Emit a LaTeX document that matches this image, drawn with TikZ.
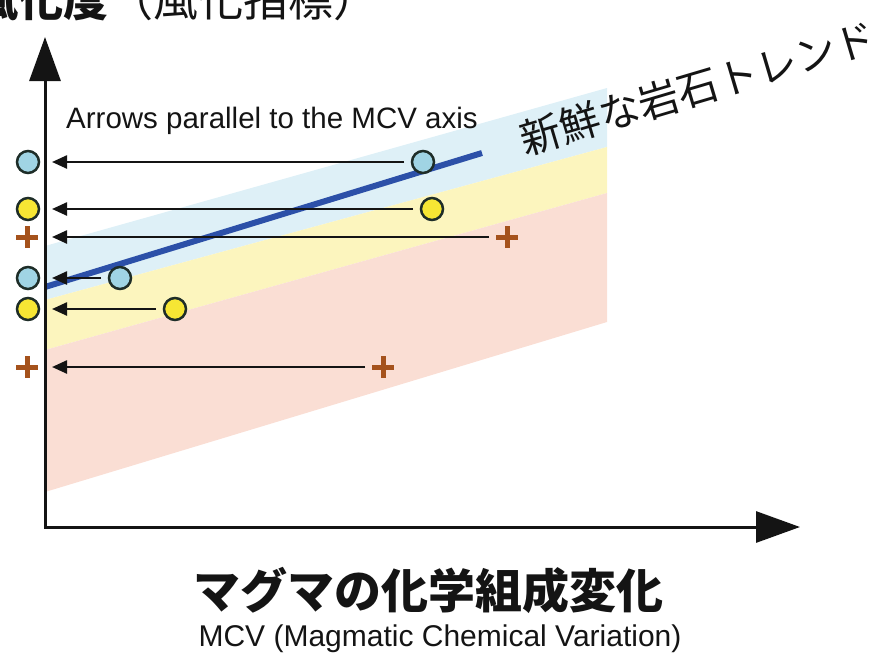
\documentclass[tikz,border=0pt]{standalone}
\usepackage{fontspec}
\setmainfont{Liberation Sans}
\newfontfamily\jp{Noto Sans CJK JP}
\usetikzlibrary{arrows.meta}
\definecolor{bandblue}{RGB}{222,240,247}
\definecolor{bandyellow}{RGB}{252,245,190}
\definecolor{bandpink}{RGB}{250,222,212}
\definecolor{trendblue}{RGB}{44,80,168}
\definecolor{dotblue}{RGB}{160,212,228}
\definecolor{dotyellow}{RGB}{246,230,52}
\definecolor{dotedge}{RGB}{30,45,40}
\definecolor{plusbrown}{RGB}{165,82,28}
\definecolor{ink}{RGB}{20,20,20}
\begin{document}
\begin{tikzpicture}[x=1pt,y=-1pt,
  axisline/.style={draw=ink, line width=3pt, -{Triangle[length=44pt,width=31pt]}},
  arr/.style={draw=ink, line width=2.4pt, -{Triangle[length=15pt,width=13pt]}},
  bdot/.style={circle, draw=dotedge, fill=dotblue, line width=2.5pt, minimum size=22pt, inner sep=0pt},
  ydot/.style={circle, draw=dotedge, fill=dotyellow, line width=2.5pt, minimum size=22pt, inner sep=0pt},
  plusmark/.style={rectangle, minimum size=22pt, inner sep=0pt,
    path picture={\draw[plusbrown, line width=5pt]
      (path picture bounding box.north) -- (path picture bounding box.south)
      (path picture bounding box.west) -- (path picture bounding box.east);}},
  gap/.style={outer sep=8pt},
  txt/.style={text=ink, inner sep=0pt}
]
\useasboundingbox (0,0) rectangle (883,656);
\clip (0,0) rectangle (883,656);

% bands
\fill[bandblue] (45,246) -- (607,88) -- (607,147) -- (45,300) -- cycle;
\fill[bandyellow] (45,300) -- (607,147) -- (607,193) -- (45,350) -- cycle;
\fill[bandpink] (45,350) -- (607,193) -- (607,322) -- (45,492) -- cycle;

% trend line
\coordinate (ts) at (45,287);
\coordinate (te) at (482,153);
\draw[trendblue, line width=6pt] (ts) -- (te);

% axes
\coordinate (O) at (45,527);
\coordinate (ytip) at (45,37);
\coordinate (xtip) at (800,527);
\draw[axisline, line cap=rect] (O) -- (ytip);
\draw[axisline, line cap=rect] (O) -- (xtip);

% left markers
\node[bdot] (l1) at (28,162) {};
\node[ydot] (l2) at (28,209) {};
\node[plusmark] (l3) at (27,237) {};
\node[bdot] (l4) at (28,278) {};
\node[ydot] (l5) at (28,309) {};
\node[plusmark] (l6) at (27,367) {};

% arrow tips on axis
\coordinate (t1) at (52,162);
\coordinate (t2) at (52,209);
\coordinate (t3) at (52,237);
\coordinate (t4) at (52,278);
\coordinate (t5) at (52,309);
\coordinate (t6) at (52,367);

% right markers
\node[bdot, gap] (r1) at (423,162) {};
\node[ydot, gap] (r2) at (432,209) {};
\node[plusmark, outer sep=7pt] (r3) at (507,237) {};
\node[bdot, gap] (r4) at (120,278) {};
\node[ydot, gap] (r5) at (175,309) {};
\node[plusmark, outer sep=7pt] (r6) at (383,367) {};

\draw[arr] (r1) -- (t1);
\draw[arr] (r2) -- (t2);
\draw[arr] (r3) -- (t3);
\draw[arr] (r4) -- (t4);
\draw[arr] (r5) -- (t5);
\draw[arr] (r6) -- (t6);

% texts
\node[txt, font=\jp\bfseries\fontsize{45}{50}\selectfont, anchor=base west] (ytitle) at (-27,16) {風化度\mdseries（風化指標）};
\node[txt, font=\fontsize{29.5}{32}\selectfont, anchor=base west] (note) at (66,128) {Arrows parallel to the MCV axis};
\node[txt, font=\jp\fontsize{41}{44}\selectfont, rotate=16.5] (trend) at (698,88) {新鮮な岩石トレンド};
\node[txt, font=\jp\bfseries\fontsize{47}{50}\selectfont, anchor=base] (xtitle) at (428,608) {マグマの化学組成変化};
\node[txt, font=\fontsize{30}{32}\selectfont, anchor=base] (xsub) at (440,646) {MCV (Magmatic Chemical Variation)};
\end{tikzpicture}
\end{document}
